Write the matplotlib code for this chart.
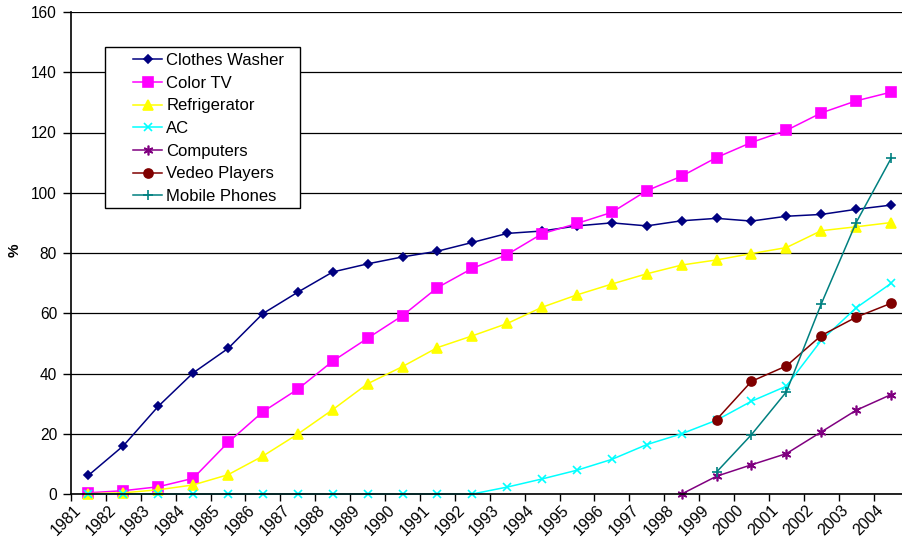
import matplotlib.pyplot as plt
import numpy as np
from matplotlib.patches import Rectangle

nan = np.nan

years = ['1981', '1982', '1983', '1984', '1985', '1986', '1987', '1988',
         '1989', '1990', '1991', '1992', '1993', '1994', '1995', '1996',
         '1997', '1998', '1999', '2000', '2001', '2002', '2003', '2004']

clothes_washer = [6.2, 16.0, 29.1, 40.2, 48.3, 59.9, 67.0, 73.7, 76.4, 78.7, 80.6, 83.5,
                  86.5, 87.3, 89.0, 90.0, 89.0, 90.7, 91.5, 90.6, 92.2, 92.8, 94.5, 95.9]
color_tv = [0.4, 1.1, 2.4, 5.2, 17.1, 27.3, 34.8, 44.1, 51.7, 59.2, 68.5, 74.9,
            79.5, 86.4, 89.8, 93.5, 100.7, 105.5, 111.7, 116.7, 120.7, 126.5, 130.5, 133.4]
refrigerator = [0.1, 0.4, 1.4, 3.0, 6.4, 12.6, 19.9, 28.0, 36.6, 42.3, 48.6, 52.5,
                56.6, 62.0, 66.1, 69.7, 73.1, 76.0, 77.7, 79.8, 81.8, 87.4, 88.7, 90.1]
ac = [0, 0, 0, 0, 0, 0, 0, 0, 0, 0, 0, 0,
      2.3, 5.0, 7.9, 11.5, 16.4, 20.0, 24.5, 30.8, 35.8, 51.0, 61.8, 69.9]
computers = [nan, nan, nan, nan, nan, nan, nan, nan, nan, nan, nan, nan,
             nan, nan, nan, nan, nan, 0.0, 5.9, 9.7, 13.4, 20.6, 27.8, 33.0]
video_players = [nan, nan, nan, nan, nan, nan, nan, nan, nan, nan, nan, nan,
                 nan, nan, nan, nan, nan, nan, 24.7, 37.4, 42.5, 52.6, 58.7, 63.3]
mobile_phones = [nan, nan, nan, nan, nan, nan, nan, nan, nan, nan, nan, nan,
                 nan, nan, nan, nan, nan, nan, 7.3, 19.7, 33.9, 63.1, 90.1, 111.4]

# label, values, colour, marker, marker size
series = [
    ('Clothes Washer', clothes_washer, '#000080', 'D', 4.5),
    ('Color TV', color_tv, '#FF00FF', 's', 6.5),
    ('Refrigerator', refrigerator, '#FFFF00', '^', 7),
    ('AC', ac, '#00FFFF', 'x', 6),
    ('Computers', computers, '#800080', (6, 2, 0), 7),
    ('Vedeo Players', video_players, '#800000', 'o', 6.5),
    ('Mobile Phones', mobile_phones, '#008080', '+', 7),
]


def main():
    plt.rcParams['font.family'] = ['Liberation Sans', 'DejaVu Sans']
    fig = plt.figure(figsize=(9.02, 5.46), dpi=100)
    W, H = 902.0, 546.0
    ax = fig.add_axes([71 / W, 52 / H, 837.5 / W, 482 / H])

    x = np.arange(len(years))
    handles = []
    for label, vals, col, mk, ms in series:
        h, = ax.plot(x, vals, color=col, lw=1.1, marker=mk, ms=ms,
                     mfc=col, mec=col, mew=1.2, label=label, clip_on=False)
        handles.append(h)

    ax.set_xlim(-0.5, len(years) - 0.5)
    ax.set_ylim(0, 160)
    ax.set_yticks(np.arange(0, 161, 20))
    ax.yaxis.grid(True, color='black', lw=0.9)
    ax.set_axisbelow(True)
    ax.tick_params(axis='y', labelsize=11.2, length=6, width=1, pad=4)

    # tick marks sit on category boundaries, labels a bit left of each point
    ax.set_xticks(np.arange(len(years) + 1) - 0.5)
    ax.set_xticklabels([])
    ax.set_xticks(x - 0.14, minor=True)
    ax.set_xticklabels(years, minor=True, rotation=45, ha='right', va='top',
                       fontsize=11.4)
    ax.tick_params(axis='x', which='major', length=5, width=1)
    ax.tick_params(axis='x', which='minor', length=0, pad=6)

    for side in ['top', 'right']:
        ax.spines[side].set_visible(False)
    ax.spines['left'].set_linewidth(1.2)
    ax.spines['bottom'].set_linewidth(1.2)

    fig.text(15 / W, 1 - 250 / H, '%', rotation=90, fontsize=11,
             fontweight='bold', ha='center', va='center')

    # legend box like the spreadsheet one
    fig.patches.append(Rectangle((105 / W, 1 - 208 / H), 195 / W, 161 / H,
                                 transform=fig.transFigure, fill=True,
                                 facecolor='white', edgecolor='black', lw=1,
                                 zorder=5))
    leg = fig.legend(handles=handles, loc='upper left',
                     bbox_to_anchor=(133 / W, 1 - 53 / H), frameon=False,
                     fontsize=12, handlelength=1.75, handletextpad=0.25,
                     labelspacing=0.46, borderpad=0, borderaxespad=0)
    leg.set_zorder(6)

    fig.savefig('out.png', dpi=100)


if __name__ == '__main__':
    main()
